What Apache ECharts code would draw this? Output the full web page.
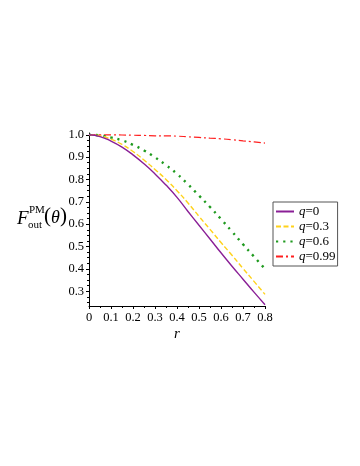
<!DOCTYPE html>
<html>
<head>
<meta charset="utf-8">
<script src="https://cdn.jsdelivr.net/npm/echarts@6/dist/echarts.min.js"></script>
<style>
  html, body { margin: 0; padding: 0; background: #fff; }
  #chart { width: 360px; height: 466px; }
</style>
</head>
<body>
<div id="chart"></div>
<script>
// r values (x axis)
const R = [0, 0.05, 0.1, 0.15, 0.2, 0.25, 0.3, 0.35, 0.4, 0.45, 0.5, 0.55, 0.6, 0.65, 0.7, 0.75, 0.8]

// fidelity
const Q0   = [1, 0.992, 0.972, 0.945, 0.91, 0.87, 0.825, 0.775, 0.72, 0.657, 0.595, 0.534, 0.472, 0.412, 0.354, 0.296, 0.24]
const Q03  = [1, 0.995, 0.98, 0.957, 0.925, 0.887, 0.845, 0.80, 0.75, 0.695, 0.635, 0.577, 0.518, 0.461, 0.402, 0.344, 0.286]
const Q06  = [1, 0.997, 0.988, 0.975, 0.955, 0.93, 0.899, 0.864, 0.825, 0.778, 0.728, 0.677, 0.623, 0.567, 0.51, 0.455, 0.40]
const Q099 = [1, 1, 0.9995, 0.999, 0.998, 0.997, 0.9955, 0.995, 0.994, 0.991, 0.988, 0.985, 0.982, 0.978, 0.973, 0.968, 0.963]

const NAMES  = ['0', '0.3', '0.6', '0.99']
const X_TICKS = [0, 0.1, 0.2, 0.3, 0.4, 0.5, 0.6, 0.7, 0.8]
const Y_TICKS = [0.3, 0.4, 0.5, 0.6, 0.7, 0.8, 0.9, 1.0]
const Y_MINOR = [0.25, 0.275, 0.325, 0.35, 0.375, 0.425, 0.45, 0.475, 0.525, 0.55, 0.575,
                 0.625, 0.65, 0.675, 0.725, 0.75, 0.775, 0.825, 0.85, 0.875, 0.925, 0.95, 0.975]

const SERIF = 'Liberation Serif'
const pairs = ys => R.map((r, i) => [r, ys[i]])

const chart = echarts.init(document.getElementById('chart'))

const lineDefs = [
  { data: Q0,   color: '#8a1f96', type: 'solid',     width: 1.4 },
  { data: Q03,  color: '#ffd21a', type: [5, 2.5],    width: 1.4 },
  { data: Q06,  color: '#1f9a1f', type: [2.2, 5],    width: 2.4 },
  { data: Q099, color: '#ff1f1f', type: [7, 3, 2, 3], width: 1.2 },
]

chart.setOption({
  animation: false,
  backgroundColor: '#fff',
  textStyle: { fontFamily: SERIF },
  grid: { left: 89, right: 95, top: 133, bottom: 160, containLabel: false },
  legend: {
    orient: 'vertical',
    left: 273, top: 202,
    itemWidth: 18, itemHeight: 10, itemGap: 2,
    padding: [3, 2, 3, 2],
    borderColor: '#555', borderWidth: 1,
    itemStyle: { opacity: 0 },
    data: NAMES.map(n => 'q=' + n),
    textStyle: {
      fontFamily: SERIF, fontSize: 13, color: '#000',
      rich: { i: { fontFamily: SERIF, fontStyle: 'italic', fontSize: 13, color: '#000' } },
    },
    formatter: n => '{i|q}=' + n.slice(2),
  },
  xAxis: {
    type: 'value', min: 0, max: 0.8, interval: 0.1,
    axisLine: { lineStyle: { color: '#000', width: 1 } },
    axisTick: { show: true, length: 3, lineStyle: { color: '#000' } },
    minorTick: { show: true, splitNumber: 2, length: 2, lineStyle: { color: '#000' } },
    axisLabel: {
      color: '#000', fontSize: 12.5, fontFamily: SERIF, margin: 5,
      customValues: X_TICKS,
      formatter: v => v === 0 ? '0' : v.toFixed(1),
    },
    splitLine: { show: false },
    name: 'r', nameLocation: 'middle', nameGap: 21,
    nameTextStyle: { fontFamily: SERIF, fontStyle: 'italic', fontSize: 15, color: '#000' },
  },
  yAxis: [
    {
      type: 'value', min: 0.234, max: 1.008,
      axisLine: { show: true, lineStyle: { color: '#000', width: 1 } },
      axisTick: { show: true, length: 3, customValues: Y_TICKS, lineStyle: { color: '#000' } },
      axisLabel: {
        color: '#000', fontSize: 12.5, fontFamily: SERIF, margin: 5,
        customValues: Y_TICKS,
        formatter: v => v.toFixed(1),
      },
      splitLine: { show: false },
    },
    {
      type: 'value', min: 0.234, max: 1.008, position: 'left',
      axisLine: { show: false },
      axisTick: { show: true, length: 2, customValues: Y_MINOR, lineStyle: { color: '#000' } },
      axisLabel: { show: false },
      splitLine: { show: false },
    },
  ],
  graphic: [
    { type: 'text', left: 17, top: 209, style: { text: 'F', font: 'italic 19px "Liberation Serif"', fill: '#000' } },
    { type: 'text', left: 29, top: 205, style: { text: 'PM', font: '11px "Liberation Serif"', fill: '#000' } },
    { type: 'text', left: 28, top: 220, style: { text: 'out', font: '11px "Liberation Serif"', fill: '#000' } },
    { type: 'text', left: 44, top: 206, style: { text: '(', font: '21px "Liberation Serif"', fill: '#000' } },
    { type: 'text', left: 51, top: 209, style: { text: 'θ', font: 'italic 18px "Liberation Serif"', fill: '#000' } },
    { type: 'text', left: 60, top: 206, style: { text: ')', font: '21px "Liberation Serif"', fill: '#000' } },
  ],
  series: lineDefs.map((d, i) => ({
    name: 'q=' + NAMES[i],
    type: 'line',
    smooth: true,
    symbol: 'none',
    data: pairs(d.data),
    itemStyle: { color: d.color },
    lineStyle: { color: d.color, width: d.width, type: d.type },
    z: 10 - i,
  })),
})
</script>
</body>
</html>
